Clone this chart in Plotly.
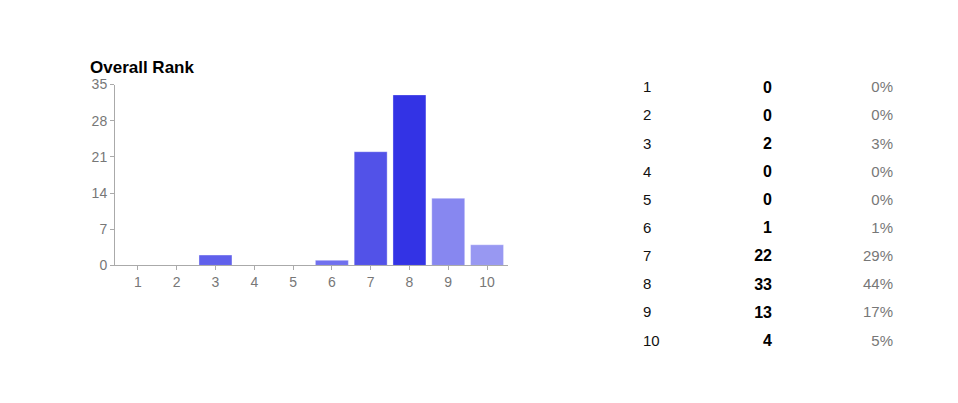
import plotly.graph_objects as go

categories = [1, 2, 3, 4, 5, 6, 7, 8, 9, 10]
counts = [0, 0, 2, 0, 0, 1, 22, 33, 13, 4]
percents = ["0%", "0%", "3%", "0%", "0%", "1%", "29%", "44%", "17%", "5%"]
bar_colors = ["#6060eb", "#6060eb", "#6060eb", "#6060eb", "#6060eb",
              "#7070ee", "#5252e8", "#3333e5", "#8787f0", "#9898f2"]
y_ticks = [0, 7, 14, 21, 28, 35]

W, H = 958, 403
FONT = "Liberation Sans, Arial, sans-serif"

# page-offset compensation (observed rendering offset)
def px(p):
    return (p - 8) / W

def py(p):
    return 1 - ((p - 16.8) / 0.9556) / H

fig = go.Figure()
fig.add_trace(go.Bar(
    x=categories, y=counts, width=0.85,
    marker=dict(color=bar_colors, line=dict(color="rgba(255,255,255,0.35)", width=1)),
    hoverinfo="skip", showlegend=False,
))

# table as text traces on a second axis pair
fig.add_trace(go.Scatter(
    x=[643 - 8] * len(categories), y=categories, mode="text",
    text=[str(c) for c in categories], textposition="middle right",
    textfont=dict(family=FONT, size=15, color="#111111"),
    xaxis="x2", yaxis="y2", showlegend=False, hoverinfo="skip",
))
fig.add_trace(go.Scatter(
    x=[772 - 8] * len(categories), y=categories, mode="text",
    text=["<b>%d</b>" % v for v in counts], textposition="middle left",
    textfont=dict(family=FONT, size=16, color="#000000"),
    xaxis="x2", yaxis="y2", showlegend=False, hoverinfo="skip",
))
fig.add_trace(go.Scatter(
    x=[893 - 8] * len(categories), y=categories, mode="text",
    text=percents, textposition="middle left",
    textfont=dict(family=FONT, size=15, color="#777777"),
    xaxis="x2", yaxis="y2", showlegend=False, hoverinfo="skip",
))

axis_col = "#aaaaaa"
fig.update_layout(
    width=W, height=H,
    margin=dict(l=0, r=0, t=0, b=0),
    paper_bgcolor="white", plot_bgcolor="rgba(0,0,0,0)",
    font=dict(family=FONT),
    bargap=0.15,
    xaxis=dict(
        domain=[px(115), px(508)], range=[0.41, 10.54],
        tickmode="array", tickvals=categories, ticktext=[str(c) for c in categories],
        ticks="outside", ticklen=4, tickcolor=axis_col,
        showline=True, linecolor=axis_col, linewidth=1,
        showgrid=False, zeroline=False,
        tickfont=dict(family=FONT, size=14, color="#777777"),
        fixedrange=True,
    ),
    yaxis=dict(
        domain=[py(265), py(85)], range=[0, 35],
        tickmode="array", tickvals=y_ticks,
        ticks="outside", ticklen=4, tickcolor=axis_col,
        showline=True, linecolor=axis_col, linewidth=1,
        showgrid=False, zeroline=False,
        tickfont=dict(family=FONT, size=14, color="#777777"),
        fixedrange=True,
    ),
    xaxis2=dict(domain=[0, 1], range=[0, W], visible=False, anchor="y2", fixedrange=True),
    yaxis2=dict(domain=[py(355), py(75)], range=[10.5, 0.5], visible=False,
                anchor="x2", fixedrange=True),
    annotations=[dict(
        text="<b>Overall Rank</b>", xref="paper", yref="paper",
        x=px(88), y=py(57), xanchor="left", yanchor="top", showarrow=False,
        font=dict(family=FONT, size=17, color="#000000"),
    )],
)

fig.write_html("out.html", config={"displayModeBar": False})
